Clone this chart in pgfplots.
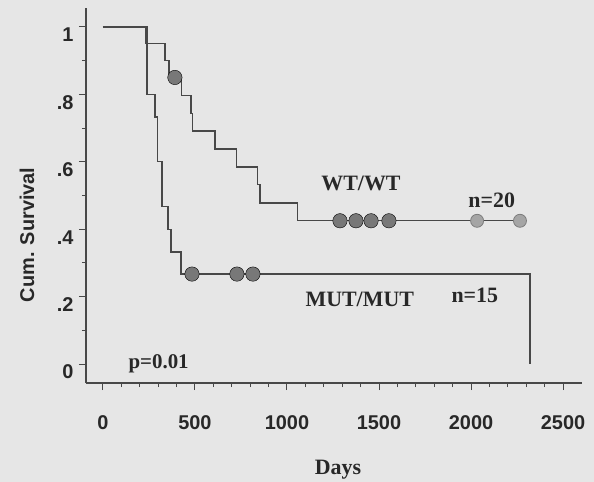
\documentclass[border=0pt]{standalone}
\usepackage{fontspec}
\setmainfont{Liberation Serif}
\newfontfamily\sansfont{Liberation Sans}
\usepackage{pgfplots}
\pgfplotsset{compat=1.18}

\definecolor{bg}{RGB}{230,230,230}
\definecolor{ink}{RGB}{72,72,72}
\definecolor{txt}{RGB}{40,40,40}
\definecolor{cens}{RGB}{120,120,120}
\definecolor{censlight}{RGB}{165,165,165}

\begin{document}
\begin{tikzpicture}
% page background
\fill[bg] (-86bp,-99bp) rectangle (508bp,383bp);
\begin{axis}[
  at={(0,0)}, anchor=south west,
  scale only axis, width=496bp, height=375bp,
  xmin=-92, xmax=2603, ymin=-0.056, ymax=1.056,
  axis x line=bottom, axis y line=left,
  axis line style={-, ink, line width=1.3pt},
  xtick={0,500,1000,1500,2000,2500},
  minor x tick num=4,
  ytick={0,0.2,0.4,0.6,0.8,1},
  yticklabels={0,.2,.4,.6,.8,1},
  minor y tick num=1,
  tick align=outside,
  major tick length=7bp, minor tick length=4bp,
  tick style={ink, line width=1pt},
  /pgf/number format/assume math mode=true,
  /pgf/number format/1000 sep={},
  tick label style={font=\sansfont\bfseries\fontsize{20}{20}\selectfont, text=txt},
  xticklabel style={yshift=-22bp},
  yticklabel style={anchor=east, yshift=-8bp, xshift=-2bp},
  xlabel={Days},
  xlabel style={font=\bfseries\fontsize{22}{22}\selectfont, text=txt,
    at={(axis description cs:0.508,-0.245)}, anchor=base},
  ylabel={Cum. Survival},
  ylabel style={font=\sansfont\bfseries\fontsize{20}{20}\selectfont, text=txt,
    at={(axis description cs:-0.119,0.395)}, anchor=center},
  clip=false,
]
% WT/WT survival curve
\addplot[const plot, ink, line width=1.4pt] coordinates {
  (0,1) (234,0.95) (337,0.90) (359,0.85) (428,0.797) (478,0.744)
  (486,0.691) (609,0.638) (726,0.585) (841,0.532) (853,0.478)
  (1057,0.425) (2266,0.425)
};
% MUT/MUT survival curve
\addplot[const plot, ink, line width=1.4pt] coordinates {
  (0,1) (239,0.80) (283,0.733) (297,0.60) (320,0.467) (353,0.40)
  (369,0.333) (424,0.267) (2321,0)
};
% censored cases
\addplot[only marks, mark=*, mark size=7.2bp,
  mark options={draw=none, fill=cens}] coordinates {
  (391,0.85) (1288,0.425) (1375,0.425) (1457,0.425) (1554,0.425)
  (484,0.267) (728,0.267) (815,0.267)
};
\addplot[only marks, mark=*, mark size=6.5bp,
  mark options={draw=censlight!75!black, line width=0.8pt, fill=censlight}] coordinates {
  (2033,0.425) (2266,0.425)
};
% group annotations
\node[anchor=base west, font=\bfseries\fontsize{22}{22}\selectfont, text=txt] at (axis cs:1168,0.516) {WT/WT};
\node[anchor=base west, font=\bfseries\fontsize{22}{22}\selectfont, text=txt] at (axis cs:1967,0.463) {n=20};
\node[anchor=base west, font=\bfseries\fontsize{22}{22}\selectfont, text=txt] at (axis cs:1082,0.172) {MUT/MUT};
\node[anchor=base west, font=\bfseries\fontsize{22}{22}\selectfont, text=txt] at (axis cs:1875,0.184) {n=15};
\node[anchor=base west, font=\bfseries\fontsize{21}{21}\selectfont, text=txt] at (axis cs:120,-0.012) {p=0.01};
\end{axis}
\pgfresetboundingbox
\path (-86bp,-99bp) rectangle (508bp,383bp);
\end{tikzpicture}
\end{document}
